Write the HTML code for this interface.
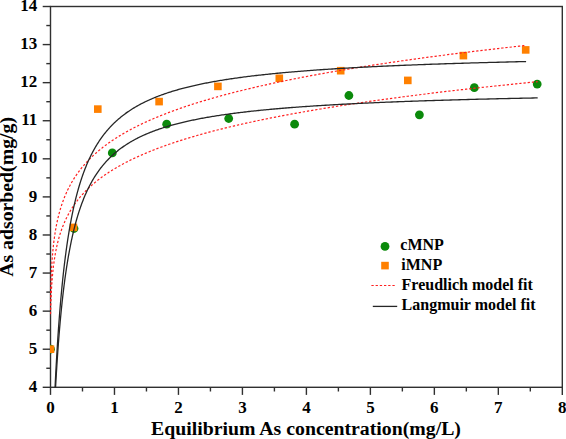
<!DOCTYPE html>
<html><head><meta charset="utf-8"><style>
html,body{margin:0;padding:0;background:#fff;width:566px;height:439px;overflow:hidden}
svg{display:block}
text{font-family:"Liberation Serif",serif;font-weight:bold;fill:#000}
.t{font-size:17px}
.l{font-size:19.8px}
.g{font-size:16px}
</style></head><body>
<svg width="566" height="439" viewBox="0 0 566 439">
<rect x="50.50" y="6.50" width="511.80" height="380.80" fill="none" stroke="#303030" stroke-width="1.40"/>
<line x1="42.70" y1="387.30" x2="50.50" y2="387.30" stroke="#303030" stroke-width="1.40"/>
<text x="37.20" y="391.90" text-anchor="end" class="t">4</text>
<line x1="42.70" y1="349.22" x2="50.50" y2="349.22" stroke="#303030" stroke-width="1.40"/>
<text x="37.20" y="353.82" text-anchor="end" class="t">5</text>
<line x1="42.70" y1="311.14" x2="50.50" y2="311.14" stroke="#303030" stroke-width="1.40"/>
<text x="37.20" y="315.74" text-anchor="end" class="t">6</text>
<line x1="42.70" y1="273.06" x2="50.50" y2="273.06" stroke="#303030" stroke-width="1.40"/>
<text x="37.20" y="277.66" text-anchor="end" class="t">7</text>
<line x1="42.70" y1="234.98" x2="50.50" y2="234.98" stroke="#303030" stroke-width="1.40"/>
<text x="37.20" y="239.58" text-anchor="end" class="t">8</text>
<line x1="42.70" y1="196.90" x2="50.50" y2="196.90" stroke="#303030" stroke-width="1.40"/>
<text x="37.20" y="201.50" text-anchor="end" class="t">9</text>
<line x1="42.70" y1="158.82" x2="50.50" y2="158.82" stroke="#303030" stroke-width="1.40"/>
<text x="37.20" y="163.42" text-anchor="end" class="t">10</text>
<line x1="42.70" y1="120.74" x2="50.50" y2="120.74" stroke="#303030" stroke-width="1.40"/>
<text x="37.20" y="125.34" text-anchor="end" class="t">11</text>
<line x1="42.70" y1="82.66" x2="50.50" y2="82.66" stroke="#303030" stroke-width="1.40"/>
<text x="37.20" y="87.26" text-anchor="end" class="t">12</text>
<line x1="42.70" y1="44.58" x2="50.50" y2="44.58" stroke="#303030" stroke-width="1.40"/>
<text x="37.20" y="49.18" text-anchor="end" class="t">13</text>
<line x1="42.70" y1="6.50" x2="50.50" y2="6.50" stroke="#303030" stroke-width="1.40"/>
<text x="37.20" y="11.10" text-anchor="end" class="t">14</text>
<line x1="46.30" y1="368.26" x2="50.50" y2="368.26" stroke="#303030" stroke-width="1.40"/>
<line x1="46.30" y1="330.18" x2="50.50" y2="330.18" stroke="#303030" stroke-width="1.40"/>
<line x1="46.30" y1="292.10" x2="50.50" y2="292.10" stroke="#303030" stroke-width="1.40"/>
<line x1="46.30" y1="254.02" x2="50.50" y2="254.02" stroke="#303030" stroke-width="1.40"/>
<line x1="46.30" y1="215.94" x2="50.50" y2="215.94" stroke="#303030" stroke-width="1.40"/>
<line x1="46.30" y1="177.86" x2="50.50" y2="177.86" stroke="#303030" stroke-width="1.40"/>
<line x1="46.30" y1="139.78" x2="50.50" y2="139.78" stroke="#303030" stroke-width="1.40"/>
<line x1="46.30" y1="101.70" x2="50.50" y2="101.70" stroke="#303030" stroke-width="1.40"/>
<line x1="46.30" y1="63.62" x2="50.50" y2="63.62" stroke="#303030" stroke-width="1.40"/>
<line x1="46.30" y1="25.54" x2="50.50" y2="25.54" stroke="#303030" stroke-width="1.40"/>
<line x1="50.50" y1="387.30" x2="50.50" y2="394.90" stroke="#303030" stroke-width="1.40"/>
<text x="50.50" y="412.70" text-anchor="middle" class="t">0</text>
<line x1="114.47" y1="387.30" x2="114.47" y2="394.90" stroke="#303030" stroke-width="1.40"/>
<text x="114.47" y="412.70" text-anchor="middle" class="t">1</text>
<line x1="178.45" y1="387.30" x2="178.45" y2="394.90" stroke="#303030" stroke-width="1.40"/>
<text x="178.45" y="412.70" text-anchor="middle" class="t">2</text>
<line x1="242.42" y1="387.30" x2="242.42" y2="394.90" stroke="#303030" stroke-width="1.40"/>
<text x="242.42" y="412.70" text-anchor="middle" class="t">3</text>
<line x1="306.40" y1="387.30" x2="306.40" y2="394.90" stroke="#303030" stroke-width="1.40"/>
<text x="306.40" y="412.70" text-anchor="middle" class="t">4</text>
<line x1="370.38" y1="387.30" x2="370.38" y2="394.90" stroke="#303030" stroke-width="1.40"/>
<text x="370.38" y="412.70" text-anchor="middle" class="t">5</text>
<line x1="434.35" y1="387.30" x2="434.35" y2="394.90" stroke="#303030" stroke-width="1.40"/>
<text x="434.35" y="412.70" text-anchor="middle" class="t">6</text>
<line x1="498.32" y1="387.30" x2="498.32" y2="394.90" stroke="#303030" stroke-width="1.40"/>
<text x="498.32" y="412.70" text-anchor="middle" class="t">7</text>
<line x1="562.30" y1="387.30" x2="562.30" y2="394.90" stroke="#303030" stroke-width="1.40"/>
<text x="562.30" y="412.70" text-anchor="middle" class="t">8</text>
<line x1="82.49" y1="387.30" x2="82.49" y2="391.50" stroke="#303030" stroke-width="1.40"/>
<line x1="146.46" y1="387.30" x2="146.46" y2="391.50" stroke="#303030" stroke-width="1.40"/>
<line x1="210.44" y1="387.30" x2="210.44" y2="391.50" stroke="#303030" stroke-width="1.40"/>
<line x1="274.41" y1="387.30" x2="274.41" y2="391.50" stroke="#303030" stroke-width="1.40"/>
<line x1="338.39" y1="387.30" x2="338.39" y2="391.50" stroke="#303030" stroke-width="1.40"/>
<line x1="402.36" y1="387.30" x2="402.36" y2="391.50" stroke="#303030" stroke-width="1.40"/>
<line x1="466.34" y1="387.30" x2="466.34" y2="391.50" stroke="#303030" stroke-width="1.40"/>
<line x1="530.31" y1="387.30" x2="530.31" y2="391.50" stroke="#303030" stroke-width="1.40"/>
<defs><clipPath id="pc"><rect x="50.00" y="6.50" width="512.30" height="380.80"/></clipPath>
<clipPath id="rc"><rect x="50.00" y="6.50" width="512.30" height="309.00"/></clipPath></defs>
<g clip-path="url(#pc)">
<circle cx="50.50" cy="349.20" r="4.40" fill="#0b8a0b"/>
<circle cx="74.00" cy="228.50" r="4.40" fill="#0b8a0b"/>
<circle cx="112.30" cy="152.90" r="4.40" fill="#0b8a0b"/>
<circle cx="166.70" cy="124.20" r="4.40" fill="#0b8a0b"/>
<circle cx="228.70" cy="118.50" r="4.40" fill="#0b8a0b"/>
<circle cx="294.60" cy="124.20" r="4.40" fill="#0b8a0b"/>
<circle cx="348.90" cy="95.50" r="4.40" fill="#0b8a0b"/>
<circle cx="419.40" cy="114.80" r="4.40" fill="#0b8a0b"/>
<circle cx="474.30" cy="87.70" r="4.40" fill="#0b8a0b"/>
<circle cx="537.20" cy="84.10" r="4.40" fill="#0b8a0b"/>
<rect x="46.70" y="345.40" width="7.60" height="7.60" fill="#ff8000"/>
<rect x="69.60" y="223.60" width="7.60" height="7.60" fill="#ff8000"/>
<rect x="94.00" y="105.30" width="7.60" height="7.60" fill="#ff8000"/>
<rect x="155.30" y="97.80" width="7.60" height="7.60" fill="#ff8000"/>
<rect x="214.10" y="82.60" width="7.60" height="7.60" fill="#ff8000"/>
<rect x="275.50" y="74.50" width="7.60" height="7.60" fill="#ff8000"/>
<rect x="336.90" y="66.90" width="7.60" height="7.60" fill="#ff8000"/>
<rect x="404.00" y="76.60" width="7.60" height="7.60" fill="#ff8000"/>
<rect x="459.60" y="51.80" width="7.60" height="7.60" fill="#ff8000"/>
<rect x="521.90" y="46.10" width="7.60" height="7.60" fill="#ff8000"/>
<g clip-path="url(#rc)">
<polyline points="50.00,473.86 50.00,457.80 50.00,446.64 50.00,437.81 50.00,430.39 50.00,423.93 50.00,418.16 50.00,412.94 50.00,408.15 50.00,403.71 50.00,399.56 50.00,395.66 50.00,391.98 50.01,388.49 50.01,385.17 50.01,382.00 50.01,378.95 50.01,376.03 50.02,373.22 50.02,370.51 50.02,367.88 50.02,365.35 50.03,362.89 50.03,360.50 50.03,358.18 50.04,355.92 50.04,353.72 50.05,351.58 50.05,349.49 50.06,347.44 50.07,345.45 50.07,343.49 50.08,341.58 50.09,339.71 50.09,337.87 50.10,336.07 50.11,334.31 50.12,332.57 50.13,330.87 50.14,329.20 50.15,327.55 50.16,325.94 50.18,324.34 50.19,322.78 50.20,321.24 50.21,319.72 50.23,318.22 50.24,316.75 50.26,315.29 50.28,313.86 50.29,312.45 50.31,311.05 50.33,309.67 50.35,308.31 50.37,306.97 50.39,305.65 50.41,304.34 50.43,303.04 50.45,301.76 50.48,300.50 50.50,299.25 50.53,298.02 50.55,296.79 50.58,295.59 50.61,294.39 50.63,293.21 50.66,292.03 50.69,290.88 50.72,289.73 50.76,288.59 50.79,287.47 50.82,286.35 50.86,285.25 50.89,284.15 50.93,283.07 50.97,282.00 51.01,280.93 51.05,279.88 51.09,278.83 51.13,277.80 51.17,276.77 51.22,275.75 51.26,274.74 51.31,273.74 51.35,272.74 51.40,271.76 51.45,270.78 51.50,269.81 51.55,268.85 51.61,267.89 51.66,266.94 51.72,266.00 51.77,265.07 51.83,264.14 51.89,263.22 51.95,262.31 52.01,261.40 52.07,260.50 52.14,259.60 52.20,258.71 52.27,257.83 52.34,256.95 52.41,256.08 52.48,255.22 52.55,254.36 52.63,253.50 52.70,252.66 52.78,251.81 52.85,250.98 52.93,250.14 53.01,249.32 53.10,248.49 53.18,247.68 53.27,246.86 53.35,246.06 53.44,245.25 53.53,244.46 53.62,243.66 53.71,242.88 53.81,242.09 53.90,241.31 54.00,240.54 54.10,239.77 54.20,239.00 54.31,238.24 54.41,237.48 54.51,236.72 54.62,235.97 54.73,235.23 54.84,234.49 54.96,233.75 55.07,233.01 55.19,232.28 55.30,231.56 55.42,230.83 55.54,230.11 55.67,229.40 55.79,228.69 55.92,227.98 56.05,227.27 56.18,226.57 56.31,225.87 56.45,225.18 56.58,224.49 56.72,223.80 56.86,223.11 57.00,222.43 57.15,221.75 57.29,221.08 57.44,220.40 57.59,219.73 57.74,219.07 57.89,218.40 58.05,217.74 58.21,217.09 58.37,216.43 58.53,215.78 58.69,215.13 58.86,214.49 59.03,213.84 59.20,213.20 59.37,212.56 59.55,211.93 59.72,211.30 59.90,210.67 60.08,210.04 60.27,209.41 60.45,208.79 60.64,208.17 60.83,207.55 61.02,206.94 61.22,206.33 61.41,205.72 61.61,205.11 61.81,204.51 62.02,203.90 62.22,203.30 62.43,202.70 62.64,202.11 62.85,201.52 63.07,200.92 63.29,200.34 63.51,199.75 63.73,199.16 63.96,198.58 64.18,198.00 64.41,197.42 64.65,196.85 64.88,196.27 65.12,195.70 65.36,195.13 65.60,194.57 65.85,194.00 66.09,193.44 66.34,192.87 66.60,192.31 66.85,191.76 67.11,191.20 67.37,190.65 67.63,190.10 67.90,189.55 68.17,189.00 68.44,188.45 68.71,187.91 68.99,187.36 69.27,186.82 69.55,186.28 69.84,185.75 70.12,185.21 70.41,184.68 70.71,184.14 71.00,183.61 71.30,183.09 71.60,182.56 71.91,182.03 72.21,181.51 72.52,180.99 72.84,180.47 73.15,179.95 73.47,179.43 73.79,178.92 74.12,178.40 74.44,177.89 74.77,177.38 75.11,176.87 75.44,176.36 75.78,175.86 76.12,175.35 76.47,174.85 76.82,174.35 77.17,173.85 77.52,173.35 77.88,172.85 78.24,172.36 78.61,171.86 78.97,171.37 79.34,170.88 79.72,170.39 80.09,169.90 80.47,169.41 80.85,168.93 81.24,168.44 81.63,167.96 82.02,167.48 82.41,167.00 82.81,166.52 83.22,166.04 83.62,165.57 84.03,165.09 84.44,164.62 84.86,164.15 85.27,163.67 85.70,163.20 86.12,162.74 86.55,162.27 86.98,161.80 87.41,161.34 87.85,160.88 88.30,160.41 88.74,159.95 89.19,159.49 89.64,159.03 90.10,158.58 90.56,158.12 91.02,157.66 91.49,157.21 91.95,156.76 92.43,156.31 92.90,155.86 93.38,155.41 93.87,154.96 94.36,154.51 94.85,154.07 95.34,153.62 95.84,153.18 96.34,152.74 96.85,152.29 97.36,151.85 97.87,151.41 98.39,150.98 98.91,150.54 99.43,150.10 99.96,149.67 100.49,149.23 101.02,148.80 101.56,148.37 102.11,147.94 102.65,147.51 103.20,147.08 103.76,146.65 104.32,146.23 104.88,145.80 105.44,145.37 106.01,144.95 106.59,144.53 107.16,144.11 107.75,143.69 108.33,143.27 108.92,142.85 109.51,142.43 110.11,142.01 110.71,141.60 111.32,141.18 111.93,140.77 112.54,140.35 113.16,139.94 113.78,139.53 114.40,139.12 115.03,138.71 115.66,138.30 116.30,137.89 116.94,137.49 117.59,137.08 118.24,136.68 118.89,136.27 119.55,135.87 120.21,135.47 120.88,135.06 121.55,134.66 122.23,134.26 122.91,133.86 123.59,133.47 124.28,133.07 124.97,132.67 125.67,132.28 126.37,131.88 127.07,131.49 127.78,131.10 128.49,130.70 129.21,130.31 129.93,129.92 130.66,129.53 131.39,129.14 132.13,128.75 132.87,128.37 133.61,127.98 134.36,127.59 135.11,127.21 135.87,126.82 136.63,126.44 137.40,126.06 138.17,125.68 138.95,125.29 139.73,124.91 140.51,124.53 141.30,124.16 142.09,123.78 142.89,123.40 143.70,123.02 144.50,122.65 145.32,122.27 146.13,121.90 146.96,121.52 147.78,121.15 148.61,120.78 149.45,120.41 150.29,120.04 151.13,119.67 151.98,119.30 152.84,118.93 153.70,118.56 154.56,118.19 155.43,117.82 156.30,117.46 157.18,117.09 158.07,116.73 158.95,116.36 159.85,116.00 160.75,115.64 161.65,115.28 162.56,114.92 163.47,114.56 164.39,114.20 165.31,113.84 166.24,113.48 167.17,113.12 168.11,112.76 169.05,112.41 170.00,112.05 170.95,111.69 171.90,111.34 172.87,110.98 173.83,110.63 174.81,110.28 175.78,109.93 176.77,109.57 177.76,109.22 178.75,108.87 179.75,108.52 180.75,108.17 181.76,107.83 182.77,107.48 183.79,107.13 184.81,106.78 185.84,106.44 186.88,106.09 187.92,105.75 188.96,105.40 190.01,105.06 191.07,104.72 192.13,104.37 193.19,104.03 194.27,103.69 195.34,103.35 196.42,103.01 197.51,102.67 198.60,102.33 199.70,101.99 200.81,101.65 201.91,101.32 203.03,100.98 204.15,100.64 205.27,100.31 206.40,99.97 207.54,99.64 208.68,99.31 209.83,98.97 210.98,98.64 212.14,98.31 213.30,97.97 214.47,97.64 215.65,97.31 216.83,96.98 218.01,96.65 219.20,96.32 220.40,96.00 221.60,95.67 222.81,95.34 224.03,95.01 225.25,94.69 226.47,94.36 227.70,94.03 228.94,93.71 230.18,93.38 231.43,93.06 232.69,92.74 233.95,92.41 235.21,92.09 236.48,91.77 237.76,91.45 239.04,91.13 240.33,90.81 241.63,90.49 242.93,90.17 244.23,89.85 245.55,89.53 246.87,89.21 248.19,88.90 249.52,88.58 250.86,88.26 252.20,87.95 253.55,87.63 254.90,87.32 256.26,87.00 257.63,86.69 259.00,86.37 260.38,86.06 261.76,85.75 263.15,85.44 264.55,85.12 265.95,84.81 267.36,84.50 268.77,84.19 270.19,83.88 271.62,83.57 273.05,83.26 274.49,82.95 275.94,82.65 277.39,82.34 278.84,82.03 280.31,81.72 281.78,81.42 283.25,81.11 284.74,80.81 286.23,80.50 287.72,80.20 289.22,79.89 290.73,79.59 292.24,79.29 293.76,78.98 295.29,78.68 296.82,78.38 298.36,78.08 299.91,77.78 301.46,77.48 303.02,77.18 304.59,76.88 306.16,76.58 307.73,76.28 309.32,75.98 310.91,75.68 312.51,75.38 314.11,75.09 315.72,74.79 317.34,74.49 318.96,74.20 320.59,73.90 322.23,73.61 323.87,73.31 325.52,73.02 327.18,72.72 328.84,72.43 330.51,72.14 332.19,71.84 333.87,71.55 335.56,71.26 337.26,70.97 338.96,70.67 340.67,70.38 342.39,70.09 344.11,69.80 345.84,69.51 347.58,69.22 349.32,68.94 351.07,68.65 352.83,68.36 354.59,68.07 356.36,67.78 358.14,67.50 359.92,67.21 361.72,66.92 363.51,66.64 365.32,66.35 367.13,66.07 368.95,65.78 370.78,65.50 372.61,65.21 374.45,64.93 376.30,64.65 378.15,64.36 380.01,64.08 381.88,63.80 383.76,63.52 385.64,63.24 387.53,62.96 389.42,62.67 391.33,62.39 393.24,62.11 395.15,61.83 397.08,61.56 399.01,61.28 400.95,61.00 402.90,60.72 404.85,60.44 406.81,60.16 408.78,59.89 410.75,59.61 412.73,59.33 414.72,59.06 416.72,58.78 418.72,58.51 420.73,58.23 422.75,57.96 424.78,57.68 426.81,57.41 428.85,57.13 430.90,56.86 432.96,56.59 435.02,56.31 437.09,56.04 439.17,55.77 441.25,55.50 443.34,55.23 445.44,54.96 447.55,54.68 449.66,54.41 451.79,54.14 453.92,53.87 456.05,53.60 458.20,53.34 460.35,53.07 462.51,52.80 464.68,52.53 466.85,52.26 469.03,51.99 471.22,51.73 473.42,51.46 475.63,51.19 477.84,50.93 480.06,50.66 482.29,50.40 484.53,50.13 486.77,49.87 489.02,49.60 491.28,49.34 493.55,49.07 495.82,48.81 498.10,48.55 500.39,48.28 502.69,48.02 505.00,47.76 507.31,47.49 509.63,47.23 511.96,46.97 514.30,46.71 516.64,46.45 519.00,46.19 521.36,45.93 523.73,45.67 526.10,45.41" fill="none" stroke="#ff2020" stroke-width="1.20" stroke-dasharray="2.3 1.9"/>
<polyline points="50.00,477.74 50.00,462.76 50.00,452.36 50.00,444.14 50.00,437.23 50.00,431.22 50.00,425.87 50.00,421.01 50.00,416.56 50.00,412.44 50.00,408.59 50.00,404.97 50.00,401.55 50.01,398.32 50.01,395.23 50.01,392.29 50.01,389.47 50.01,386.76 50.02,384.15 50.02,381.63 50.02,379.20 50.02,376.85 50.03,374.57 50.03,372.36 50.04,370.21 50.04,368.11 50.04,366.08 50.05,364.09 50.06,362.15 50.06,360.26 50.07,358.41 50.07,356.60 50.08,354.83 50.09,353.10 50.10,351.40 50.11,349.73 50.11,348.10 50.12,346.49 50.13,344.92 50.14,343.37 50.16,341.84 50.17,340.35 50.18,338.88 50.19,337.43 50.21,336.00 50.22,334.59 50.23,333.21 50.25,331.85 50.27,330.50 50.28,329.17 50.30,327.87 50.32,326.58 50.34,325.30 50.36,324.05 50.38,322.80 50.40,321.58 50.42,320.37 50.44,319.17 50.46,317.99 50.49,316.82 50.51,315.66 50.54,314.52 50.56,313.39 50.59,312.27 50.62,311.17 50.65,310.08 50.68,308.99 50.71,307.92 50.74,306.86 50.77,305.81 50.81,304.77 50.84,303.74 50.88,302.72 50.91,301.71 50.95,300.71 50.99,299.72 51.03,298.73 51.07,297.76 51.11,296.79 51.16,295.83 51.20,294.88 51.24,293.94 51.29,293.01 51.34,292.08 51.39,291.17 51.44,290.25 51.49,289.35 51.54,288.45 51.59,287.56 51.65,286.68 51.70,285.81 51.76,284.94 51.82,284.07 51.88,283.22 51.94,282.37 52.00,281.52 52.06,280.68 52.13,279.85 52.19,279.02 52.26,278.20 52.33,277.39 52.40,276.58 52.47,275.78 52.54,274.98 52.61,274.18 52.69,273.39 52.77,272.61 52.84,271.83 52.92,271.06 53.01,270.29 53.09,269.53 53.17,268.77 53.26,268.01 53.35,267.26 53.43,266.52 53.52,265.78 53.62,265.04 53.71,264.31 53.80,263.58 53.90,262.86 54.00,262.14 54.10,261.42 54.20,260.71 54.30,260.00 54.41,259.30 54.52,258.60 54.62,257.90 54.73,257.21 54.85,256.52 54.96,255.84 55.08,255.16 55.19,254.48 55.31,253.80 55.43,253.13 55.55,252.47 55.68,251.80 55.81,251.14 55.93,250.49 56.06,249.83 56.20,249.18 56.33,248.53 56.46,247.89 56.60,247.25 56.74,246.61 56.88,245.97 57.03,245.34 57.17,244.71 57.32,244.09 57.47,243.46 57.62,242.84 57.77,242.22 57.93,241.61 58.09,241.00 58.25,240.39 58.41,239.78 58.57,239.18 58.74,238.58 58.91,237.98 59.08,237.38 59.25,236.79 59.42,236.20 59.60,235.61 59.78,235.02 59.96,234.44 60.14,233.86 60.33,233.28 60.52,232.70 60.71,232.13 60.90,231.56 61.09,230.99 61.29,230.42 61.49,229.86 61.69,229.30 61.89,228.73 62.10,228.18 62.31,227.62 62.52,227.07 62.73,226.52 62.95,225.97 63.17,225.42 63.39,224.87 63.61,224.33 63.84,223.79 64.06,223.25 64.30,222.71 64.53,222.18 64.76,221.65 65.00,221.12 65.24,220.59 65.49,220.06 65.73,219.53 65.98,219.01 66.23,218.49 66.48,217.97 66.74,217.45 67.00,216.93 67.26,216.42 67.53,215.91 67.79,215.40 68.06,214.89 68.33,214.38 68.61,213.88 68.89,213.37 69.17,212.87 69.45,212.37 69.74,211.87 70.03,211.37 70.32,210.88 70.61,210.39 70.91,209.89 71.21,209.40 71.51,208.91 71.82,208.43 72.13,207.94 72.44,207.46 72.75,206.97 73.07,206.49 73.39,206.01 73.71,205.54 74.04,205.06 74.37,204.58 74.70,204.11 75.04,203.64 75.38,203.17 75.72,202.70 76.06,202.23 76.41,201.76 76.76,201.30 77.11,200.83 77.47,200.37 77.83,199.91 78.19,199.45 78.56,198.99 78.93,198.54 79.30,198.08 79.68,197.63 80.06,197.18 80.44,196.72 80.82,196.27 81.21,195.82 81.60,195.38 82.00,194.93 82.40,194.49 82.80,194.04 83.20,193.60 83.61,193.16 84.02,192.72 84.44,192.28 84.86,191.84 85.28,191.41 85.70,190.97 86.13,190.54 86.56,190.10 87.00,189.67 87.44,189.24 87.88,188.81 88.32,188.38 88.77,187.96 89.23,187.53 89.68,187.11 90.14,186.68 90.61,186.26 91.07,185.84 91.54,185.42 92.02,185.00 92.49,184.58 92.98,184.16 93.46,183.75 93.95,183.33 94.44,182.92 94.94,182.51 95.43,182.09 95.94,181.68 96.44,181.27 96.95,180.86 97.47,180.46 97.99,180.05 98.51,179.64 99.03,179.24 99.56,178.84 100.10,178.43 100.63,178.03 101.17,177.63 101.72,177.23 102.27,176.83 102.82,176.43 103.37,176.04 103.93,175.64 104.50,175.25 105.07,174.85 105.64,174.46 106.21,174.07 106.79,173.68 107.38,173.29 107.96,172.90 108.55,172.51 109.15,172.12 109.75,171.73 110.35,171.35 110.96,170.96 111.57,170.58 112.19,170.20 112.81,169.81 113.43,169.43 114.06,169.05 114.69,168.67 115.33,168.29 115.97,167.91 116.61,167.54 117.26,167.16 117.91,166.78 118.57,166.41 119.23,166.04 119.90,165.66 120.57,165.29 121.24,164.92 121.92,164.55 122.60,164.18 123.29,163.81 123.98,163.44 124.68,163.07 125.38,162.71 126.08,162.34 126.79,161.98 127.51,161.61 128.22,161.25 128.95,160.89 129.67,160.52 130.40,160.16 131.14,159.80 131.88,159.44 132.62,159.08 133.37,158.73 134.12,158.37 134.88,158.01 135.64,157.66 136.41,157.30 137.18,156.95 137.96,156.59 138.74,156.24 139.53,155.89 140.32,155.53 141.11,155.18 141.91,154.83 142.71,154.48 143.52,154.13 144.33,153.79 145.15,153.44 145.98,153.09 146.80,152.74 147.63,152.40 148.47,152.05 149.31,151.71 150.16,151.37 151.01,151.02 151.87,150.68 152.73,150.34 153.59,150.00 154.46,149.66 155.34,149.32 156.22,148.98 157.10,148.64 157.99,148.30 158.89,147.97 159.79,147.63 160.69,147.30 161.60,146.96 162.52,146.63 163.44,146.29 164.36,145.96 165.29,145.63 166.23,145.29 167.17,144.96 168.11,144.63 169.06,144.30 170.02,143.97 170.98,143.64 171.94,143.32 172.91,142.99 173.89,142.66 174.87,142.33 175.86,142.01 176.85,141.68 177.84,141.36 178.84,141.03 179.85,140.71 180.86,140.39 181.88,140.06 182.90,139.74 183.93,139.42 184.96,139.10 186.00,138.78 187.04,138.46 188.09,138.14 189.15,137.82 190.21,137.50 191.27,137.19 192.34,136.87 193.42,136.55 194.50,136.24 195.58,135.92 196.68,135.61 197.77,135.29 198.88,134.98 199.98,134.67 201.10,134.35 202.22,134.04 203.34,133.73 204.47,133.42 205.61,133.11 206.75,132.80 207.90,132.49 209.05,132.18 210.21,131.87 211.37,131.56 212.54,131.26 213.72,130.95 214.90,130.64 216.08,130.34 217.27,130.03 218.47,129.73 219.68,129.42 220.88,129.12 222.10,128.82 223.32,128.51 224.55,128.21 225.78,127.91 227.02,127.61 228.26,127.31 229.51,127.01 230.76,126.71 232.03,126.41 233.29,126.11 234.57,125.81 235.84,125.51 237.13,125.21 238.42,124.92 239.72,124.62 241.02,124.32 242.33,124.03 243.64,123.73 244.96,123.44 246.29,123.14 247.62,122.85 248.96,122.55 250.30,122.26 251.65,121.97 253.01,121.68 254.37,121.39 255.74,121.09 257.12,120.80 258.50,120.51 259.88,120.22 261.28,119.93 262.68,119.64 264.08,119.36 265.49,119.07 266.91,118.78 268.33,118.49 269.76,118.21 271.20,117.92 272.64,117.63 274.09,117.35 275.55,117.06 277.01,116.78 278.48,116.49 279.95,116.21 281.43,115.93 282.92,115.64 284.41,115.36 285.91,115.08 287.42,114.80 288.93,114.52 290.45,114.23 291.97,113.95 293.50,113.67 295.04,113.39 296.58,113.11 298.14,112.84 299.69,112.56 301.26,112.28 302.83,112.00 304.40,111.72 305.99,111.45 307.58,111.17 309.17,110.89 310.78,110.62 312.39,110.34 314.00,110.07 315.63,109.79 317.26,109.52 318.89,109.24 320.53,108.97 322.18,108.70 323.84,108.42 325.50,108.15 327.17,107.88 328.85,107.61 330.53,107.34 332.22,107.07 333.92,106.80 335.62,106.53 337.33,106.26 339.05,105.99 340.77,105.72 342.51,105.45 344.24,105.18 345.99,104.91 347.74,104.65 349.50,104.38 351.26,104.11 353.03,103.84 354.81,103.58 356.60,103.31 358.39,103.05 360.19,102.78 362.00,102.52 363.81,102.25 365.63,101.99 367.46,101.73 369.30,101.46 371.14,101.20 372.99,100.94 374.85,100.67 376.71,100.41 378.58,100.15 380.46,99.89 382.34,99.63 384.23,99.37 386.13,99.11 388.04,98.85 389.95,98.59 391.87,98.33 393.80,98.07 395.74,97.81 397.68,97.55 399.63,97.30 401.58,97.04 403.55,96.78 405.52,96.52 407.50,96.27 409.48,96.01 411.48,95.76 413.48,95.50 415.49,95.24 417.50,94.99 419.53,94.73 421.56,94.48 423.59,94.23 425.64,93.97 427.69,93.72 429.75,93.47 431.82,93.21 433.89,92.96 435.98,92.71 438.07,92.46 440.16,92.21 442.27,91.95 444.38,91.70 446.50,91.45 448.63,91.20 450.77,90.95 452.91,90.70 455.06,90.45 457.22,90.20 459.38,89.96 461.56,89.71 463.74,89.46 465.93,89.21 468.13,88.96 470.33,88.72 472.54,88.47 474.76,88.22 476.99,87.98 479.23,87.73 481.47,87.48 483.72,87.24 485.98,86.99 488.25,86.75 490.52,86.50 492.80,86.26 495.09,86.02 497.39,85.77 499.70,85.53 502.01,85.29 504.33,85.04 506.66,84.80 509.00,84.56 511.35,84.32 513.70,84.07 516.06,83.83 518.43,83.59 520.81,83.35 523.20,83.11 525.59,82.87 527.99,82.63 530.40,82.39 532.82,82.15 535.25,81.91 537.68,81.67" fill="none" stroke="#ff2020" stroke-width="1.20" stroke-dasharray="2.3 1.9"/>
</g>
<polyline points="50.00,539.62 50.00,539.62 50.00,539.62 50.00,539.61 50.00,539.61 50.00,539.60 50.00,539.59 50.00,539.57 50.00,539.55 50.00,539.52 50.00,539.49 50.00,539.45 50.00,539.41 50.01,539.36 50.01,539.30 50.01,539.23 50.01,539.15 50.01,539.06 50.02,538.96 50.02,538.85 50.02,538.73 50.02,538.60 50.03,538.45 50.03,538.29 50.03,538.12 50.04,537.93 50.04,537.73 50.05,537.52 50.05,537.28 50.06,537.03 50.07,536.77 50.07,536.49 50.08,536.18 50.09,535.87 50.09,535.53 50.10,535.17 50.11,534.79 50.12,534.39 50.13,533.98 50.14,533.54 50.15,533.07 50.16,532.59 50.18,532.08 50.19,531.55 50.20,531.00 50.21,530.43 50.23,529.83 50.24,529.20 50.26,528.55 50.28,527.88 50.29,527.18 50.31,526.45 50.33,525.70 50.35,524.92 50.37,524.11 50.39,523.28 50.41,522.42 50.43,521.53 50.45,520.62 50.48,519.67 50.50,518.70 50.53,517.70 50.55,516.68 50.58,515.62 50.61,514.54 50.63,513.43 50.66,512.28 50.69,511.11 50.72,509.92 50.76,508.69 50.79,507.43 50.82,506.15 50.86,504.83 50.89,503.49 50.93,502.12 50.97,500.72 51.01,499.29 51.05,497.84 51.09,496.35 51.13,494.84 51.17,493.30 51.22,491.74 51.26,490.14 51.31,488.52 51.35,486.87 51.40,485.20 51.45,483.50 51.50,481.77 51.55,480.02 51.61,478.24 51.66,476.44 51.72,474.62 51.77,472.77 51.83,470.89 51.89,469.00 51.95,467.08 52.01,465.13 52.07,463.17 52.14,461.19 52.20,459.18 52.27,457.15 52.34,455.11 52.41,453.04 52.48,450.96 52.55,448.85 52.63,446.73 52.70,444.59 52.78,442.44 52.85,440.27 52.93,438.08 53.01,435.88 53.10,433.66 53.18,431.43 53.27,429.19 53.35,426.93 53.44,424.66 53.53,422.38 53.62,420.09 53.71,417.79 53.81,415.48 53.90,413.15 54.00,410.83 54.10,408.49 54.20,406.14 54.31,403.79 54.41,401.43 54.51,399.07 54.62,396.70 54.73,394.33 54.84,391.95 54.96,389.57 55.07,387.18 55.19,384.80 55.30,382.41 55.42,380.02 55.54,377.63 55.67,375.24 55.79,372.85 55.92,370.46 56.05,368.07 56.18,365.69 56.31,363.30 56.45,360.92 56.58,358.54 56.72,356.17 56.86,353.80 57.00,351.43 57.15,349.07 57.29,346.72 57.44,344.37 57.59,342.02 57.74,339.68 57.89,337.35 58.05,335.03 58.21,332.72 58.37,330.41 58.53,328.11 58.69,325.82 58.86,323.54 59.03,321.27 59.20,319.00 59.37,316.75 59.55,314.51 59.72,312.28 59.90,310.06 60.08,307.85 60.27,305.65 60.45,303.46 60.64,301.28 60.83,299.12 61.02,296.97 61.22,294.83 61.41,292.70 61.61,290.58 61.81,288.48 62.02,286.39 62.22,284.32 62.43,282.25 62.64,280.21 62.85,278.17 63.07,276.15 63.29,274.14 63.51,272.14 63.73,270.16 63.96,268.19 64.18,266.24 64.41,264.30 64.65,262.38 64.88,260.47 65.12,258.57 65.36,256.69 65.60,254.82 65.85,252.97 66.09,251.13 66.34,249.31 66.60,247.50 66.85,245.70 67.11,243.92 67.37,242.16 67.63,240.41 67.90,238.67 68.17,236.95 68.44,235.24 68.71,233.55 68.99,231.87 69.27,230.21 69.55,228.56 69.84,226.92 70.12,225.30 70.41,223.69 70.71,222.10 71.00,220.52 71.30,218.96 71.60,217.41 71.91,215.87 72.21,214.35 72.52,212.85 72.84,211.35 73.15,209.87 73.47,208.41 73.79,206.95 74.12,205.51 74.44,204.09 74.77,202.68 75.11,201.28 75.44,199.89 75.78,198.52 76.12,197.16 76.47,195.82 76.82,194.48 77.17,193.16 77.52,191.86 77.88,190.56 78.24,189.28 78.61,188.01 78.97,186.75 79.34,185.51 79.72,184.27 80.09,183.05 80.47,181.85 80.85,180.65 81.24,179.46 81.63,178.29 82.02,177.13 82.41,175.98 82.81,174.84 83.22,173.72 83.62,172.60 84.03,171.50 84.44,170.40 84.86,169.32 85.27,168.25 85.70,167.19 86.12,166.14 86.55,165.10 86.98,164.07 87.41,163.06 87.85,162.05 88.30,161.05 88.74,160.06 89.19,159.09 89.64,158.12 90.10,157.16 90.56,156.21 91.02,155.27 91.49,154.34 91.95,153.43 92.43,152.52 92.90,151.62 93.38,150.72 93.87,149.84 94.36,148.97 94.85,148.10 95.34,147.25 95.84,146.40 96.34,145.56 96.85,144.73 97.36,143.91 97.87,143.10 98.39,142.29 98.91,141.50 99.43,140.71 99.96,139.93 100.49,139.16 101.02,138.39 101.56,137.64 102.11,136.89 102.65,136.15 103.20,135.41 103.76,134.69 104.32,133.97 104.88,133.26 105.44,132.55 106.01,131.86 106.59,131.17 107.16,130.48 107.75,129.81 108.33,129.14 108.92,128.47 109.51,127.82 110.11,127.17 110.71,126.53 111.32,125.89 111.93,125.26 112.54,124.64 113.16,124.02 113.78,123.41 114.40,122.81 115.03,122.21 115.66,121.61 116.30,121.03 116.94,120.45 117.59,119.87 118.24,119.30 118.89,118.74 119.55,118.18 120.21,117.63 120.88,117.08 121.55,116.54 122.23,116.00 122.91,115.47 123.59,114.95 124.28,114.43 124.97,113.91 125.67,113.40 126.37,112.90 127.07,112.40 127.78,111.90 128.49,111.41 129.21,110.93 129.93,110.45 130.66,109.97 131.39,109.50 132.13,109.03 132.87,108.57 133.61,108.11 134.36,107.66 135.11,107.21 135.87,106.77 136.63,106.33 137.40,105.89 138.17,105.46 138.95,105.03 139.73,104.61 140.51,104.19 141.30,103.78 142.09,103.37 142.89,102.96 143.70,102.56 144.50,102.16 145.32,101.76 146.13,101.37 146.96,100.98 147.78,100.60 148.61,100.22 149.45,99.84 150.29,99.47 151.13,99.10 151.98,98.73 152.84,98.37 153.70,98.01 154.56,97.65 155.43,97.30 156.30,96.95 157.18,96.60 158.07,96.26 158.95,95.92 159.85,95.58 160.75,95.25 161.65,94.92 162.56,94.59 163.47,94.27 164.39,93.95 165.31,93.63 166.24,93.31 167.17,93.00 168.11,92.69 169.05,92.38 170.00,92.08 170.95,91.78 171.90,91.48 172.87,91.18 173.83,90.89 174.81,90.60 175.78,90.31 176.77,90.03 177.76,89.75 178.75,89.47 179.75,89.19 180.75,88.91 181.76,88.64 182.77,88.37 183.79,88.10 184.81,87.84 185.84,87.58 186.88,87.32 187.92,87.06 188.96,86.80 190.01,86.55 191.07,86.30 192.13,86.05 193.19,85.80 194.27,85.56 195.34,85.31 196.42,85.07 197.51,84.83 198.60,84.60 199.70,84.36 200.81,84.13 201.91,83.90 203.03,83.67 204.15,83.45 205.27,83.22 206.40,83.00 207.54,82.78 208.68,82.56 209.83,82.35 210.98,82.13 212.14,81.92 213.30,81.71 214.47,81.50 215.65,81.29 216.83,81.09 218.01,80.88 219.20,80.68 220.40,80.48 221.60,80.28 222.81,80.09 224.03,79.89 225.25,79.70 226.47,79.50 227.70,79.31 228.94,79.12 230.18,78.94 231.43,78.75 232.69,78.57 233.95,78.39 235.21,78.20 236.48,78.02 237.76,77.85 239.04,77.67 240.33,77.50 241.63,77.32 242.93,77.15 244.23,76.98 245.55,76.81 246.87,76.64 248.19,76.47 249.52,76.31 250.86,76.15 252.20,75.98 253.55,75.82 254.90,75.66 256.26,75.50 257.63,75.35 259.00,75.19 260.38,75.03 261.76,74.88 263.15,74.73 264.55,74.58 265.95,74.43 267.36,74.28 268.77,74.13 270.19,73.98 271.62,73.84 273.05,73.70 274.49,73.55 275.94,73.41 277.39,73.27 278.84,73.13 280.31,72.99 281.78,72.86 283.25,72.72 284.74,72.58 286.23,72.45 287.72,72.32 289.22,72.18 290.73,72.05 292.24,71.92 293.76,71.79 295.29,71.67 296.82,71.54 298.36,71.41 299.91,71.29 301.46,71.16 303.02,71.04 304.59,70.92 306.16,70.80 307.73,70.68 309.32,70.56 310.91,70.44 312.51,70.32 314.11,70.21 315.72,70.09 317.34,69.97 318.96,69.86 320.59,69.75 322.23,69.64 323.87,69.52 325.52,69.41 327.18,69.30 328.84,69.19 330.51,69.09 332.19,68.98 333.87,68.87 335.56,68.77 337.26,68.66 338.96,68.56 340.67,68.45 342.39,68.35 344.11,68.25 345.84,68.15 347.58,68.05 349.32,67.95 351.07,67.85 352.83,67.75 354.59,67.65 356.36,67.56 358.14,67.46 359.92,67.36 361.72,67.27 363.51,67.18 365.32,67.08 367.13,66.99 368.95,66.90 370.78,66.81 372.61,66.72 374.45,66.63 376.30,66.54 378.15,66.45 380.01,66.36 381.88,66.27 383.76,66.19 385.64,66.10 387.53,66.01 389.42,65.93 391.33,65.84 393.24,65.76 395.15,65.68 397.08,65.59 399.01,65.51 400.95,65.43 402.90,65.35 404.85,65.27 406.81,65.19 408.78,65.11 410.75,65.03 412.73,64.95 414.72,64.88 416.72,64.80 418.72,64.72 420.73,64.65 422.75,64.57 424.78,64.50 426.81,64.42 428.85,64.35 430.90,64.27 432.96,64.20 435.02,64.13 437.09,64.06 439.17,63.99 441.25,63.91 443.34,63.84 445.44,63.77 447.55,63.70 449.66,63.64 451.79,63.57 453.92,63.50 456.05,63.43 458.20,63.36 460.35,63.30 462.51,63.23 464.68,63.17 466.85,63.10 469.03,63.03 471.22,62.97 473.42,62.91 475.63,62.84 477.84,62.78 480.06,62.72 482.29,62.65 484.53,62.59 486.77,62.53 489.02,62.47 491.28,62.41 493.55,62.35 495.82,62.29 498.10,62.23 500.39,62.17 502.69,62.11 505.00,62.05 507.31,61.99 509.63,61.94 511.96,61.88 514.30,61.82 516.64,61.77 519.00,61.71 521.36,61.65 523.73,61.60 526.10,61.54" fill="none" stroke="#262626" stroke-width="1.30"/>
<polyline points="50.00,539.62 50.00,539.62 50.00,539.62 50.00,539.61 50.00,539.61 50.00,539.60 50.00,539.59 50.00,539.57 50.00,539.55 50.00,539.53 50.00,539.50 50.00,539.46 50.00,539.42 50.01,539.36 50.01,539.31 50.01,539.24 50.01,539.16 50.01,539.08 50.02,538.98 50.02,538.88 50.02,538.76 50.02,538.63 50.03,538.49 50.03,538.33 50.04,538.17 50.04,537.99 50.04,537.79 50.05,537.58 50.06,537.36 50.06,537.12 50.07,536.86 50.07,536.59 50.08,536.29 50.09,535.98 50.10,535.66 50.11,535.31 50.11,534.95 50.12,534.56 50.13,534.16 50.14,533.73 50.16,533.28 50.17,532.82 50.18,532.33 50.19,531.81 50.21,531.28 50.22,530.72 50.23,530.14 50.25,529.54 50.27,528.91 50.28,528.26 50.30,527.58 50.32,526.88 50.34,526.15 50.36,525.40 50.38,524.62 50.40,523.82 50.42,522.99 50.44,522.13 50.46,521.25 50.49,520.34 50.51,519.40 50.54,518.44 50.56,517.45 50.59,516.43 50.62,515.39 50.65,514.32 50.68,513.22 50.71,512.09 50.74,510.93 50.77,509.75 50.81,508.54 50.84,507.31 50.88,506.04 50.91,504.75 50.95,503.44 50.99,502.09 51.03,500.72 51.07,499.32 51.11,497.90 51.16,496.44 51.20,494.97 51.24,493.46 51.29,491.93 51.34,490.38 51.39,488.80 51.44,487.20 51.49,485.57 51.54,483.92 51.59,482.24 51.65,480.54 51.70,478.82 51.76,477.07 51.82,475.30 51.88,473.51 51.94,471.70 52.00,469.87 52.06,468.01 52.13,466.14 52.19,464.25 52.26,462.33 52.33,460.40 52.40,458.45 52.47,456.49 52.54,454.50 52.61,452.50 52.69,450.49 52.77,448.45 52.84,446.41 52.92,444.34 53.01,442.27 53.09,440.18 53.17,438.08 53.26,435.96 53.35,433.84 53.43,431.70 53.52,429.55 53.62,427.39 53.71,425.23 53.80,423.05 53.90,420.87 54.00,418.67 54.10,416.47 54.20,414.27 54.30,412.06 54.41,409.84 54.52,407.62 54.62,405.39 54.73,403.16 54.85,400.93 54.96,398.69 55.08,396.45 55.19,394.21 55.31,391.97 55.43,389.73 55.55,387.49 55.68,385.25 55.81,383.01 55.93,380.77 56.06,378.53 56.20,376.29 56.33,374.06 56.46,371.83 56.60,369.60 56.74,367.38 56.88,365.16 57.03,362.95 57.17,360.74 57.32,358.54 57.47,356.35 57.62,354.16 57.77,351.98 57.93,349.80 58.09,347.63 58.25,345.47 58.41,343.32 58.57,341.18 58.74,339.04 58.91,336.91 59.08,334.80 59.25,332.69 59.42,330.59 59.60,328.51 59.78,326.43 59.96,324.36 60.14,322.31 60.33,320.26 60.52,318.23 60.71,316.21 60.90,314.20 61.09,312.20 61.29,310.21 61.49,308.24 61.69,306.28 61.89,304.33 62.10,302.39 62.31,300.47 62.52,298.56 62.73,296.66 62.95,294.77 63.17,292.90 63.39,291.04 63.61,289.19 63.84,287.36 64.06,285.54 64.30,283.74 64.53,281.95 64.76,280.17 65.00,278.40 65.24,276.65 65.49,274.92 65.73,273.19 65.98,271.49 66.23,269.79 66.48,268.11 66.74,266.44 67.00,264.79 67.26,263.15 67.53,261.52 67.79,259.91 68.06,258.31 68.33,256.73 68.61,255.16 68.89,253.60 69.17,252.06 69.45,250.53 69.74,249.01 70.03,247.51 70.32,246.02 70.61,244.55 70.91,243.08 71.21,241.64 71.51,240.20 71.82,238.78 72.13,237.37 72.44,235.98 72.75,234.60 73.07,233.23 73.39,231.87 73.71,230.53 74.04,229.20 74.37,227.88 74.70,226.58 75.04,225.28 75.38,224.01 75.72,222.74 76.06,221.48 76.41,220.24 76.76,219.01 77.11,217.79 77.47,216.59 77.83,215.40 78.19,214.21 78.56,213.04 78.93,211.88 79.30,210.74 79.68,209.60 80.06,208.48 80.44,207.37 80.82,206.26 81.21,205.17 81.60,204.09 82.00,203.03 82.40,201.97 82.80,200.92 83.20,199.89 83.61,198.86 84.02,197.85 84.44,196.84 84.86,195.85 85.28,194.86 85.70,193.89 86.13,192.93 86.56,191.97 87.00,191.03 87.44,190.09 87.88,189.17 88.32,188.25 88.77,187.35 89.23,186.45 89.68,185.56 90.14,184.69 90.61,183.82 91.07,182.96 91.54,182.11 92.02,181.26 92.49,180.43 92.98,179.60 93.46,178.79 93.95,177.98 94.44,177.18 94.94,176.39 95.43,175.61 95.94,174.83 96.44,174.07 96.95,173.31 97.47,172.56 97.99,171.81 98.51,171.08 99.03,170.35 99.56,169.63 100.10,168.92 100.63,168.21 101.17,167.51 101.72,166.82 102.27,166.14 102.82,165.46 103.37,164.79 103.93,164.13 104.50,163.47 105.07,162.82 105.64,162.18 106.21,161.54 106.79,160.92 107.38,160.29 107.96,159.68 108.55,159.07 109.15,158.46 109.75,157.86 110.35,157.27 110.96,156.69 111.57,156.11 112.19,155.53 112.81,154.97 113.43,154.40 114.06,153.85 114.69,153.30 115.33,152.75 115.97,152.21 116.61,151.68 117.26,151.15 117.91,150.63 118.57,150.11 119.23,149.60 119.90,149.09 120.57,148.59 121.24,148.09 121.92,147.60 122.60,147.11 123.29,146.63 123.98,146.15 124.68,145.68 125.38,145.21 126.08,144.75 126.79,144.29 127.51,143.84 128.22,143.39 128.95,142.94 129.67,142.50 130.40,142.06 131.14,141.63 131.88,141.20 132.62,140.78 133.37,140.36 134.12,139.95 134.88,139.54 135.64,139.13 136.41,138.73 137.18,138.33 137.96,137.93 138.74,137.54 139.53,137.15 140.32,136.77 141.11,136.39 141.91,136.01 142.71,135.64 143.52,135.27 144.33,134.91 145.15,134.55 145.98,134.19 146.80,133.83 147.63,133.48 148.47,133.13 149.31,132.79 150.16,132.45 151.01,132.11 151.87,131.78 152.73,131.44 153.59,131.12 154.46,130.79 155.34,130.47 156.22,130.15 157.10,129.83 157.99,129.52 158.89,129.21 159.79,128.90 160.69,128.60 161.60,128.30 162.52,128.00 163.44,127.70 164.36,127.41 165.29,127.12 166.23,126.83 167.17,126.55 168.11,126.26 169.06,125.98 170.02,125.71 170.98,125.43 171.94,125.16 172.91,124.89 173.89,124.62 174.87,124.36 175.86,124.10 176.85,123.84 177.84,123.58 178.84,123.33 179.85,123.07 180.86,122.82 181.88,122.57 182.90,122.33 183.93,122.08 184.96,121.84 186.00,121.60 187.04,121.37 188.09,121.13 189.15,120.90 190.21,120.67 191.27,120.44 192.34,120.21 193.42,119.99 194.50,119.77 195.58,119.55 196.68,119.33 197.77,119.11 198.88,118.90 199.98,118.68 201.10,118.47 202.22,118.26 203.34,118.06 204.47,117.85 205.61,117.65 206.75,117.44 207.90,117.24 209.05,117.05 210.21,116.85 211.37,116.65 212.54,116.46 213.72,116.27 214.90,116.08 216.08,115.89 217.27,115.71 218.47,115.52 219.68,115.34 220.88,115.16 222.10,114.97 223.32,114.80 224.55,114.62 225.78,114.44 227.02,114.27 228.26,114.10 229.51,113.92 230.76,113.76 232.03,113.59 233.29,113.42 234.57,113.25 235.84,113.09 237.13,112.93 238.42,112.77 239.72,112.61 241.02,112.45 242.33,112.29 243.64,112.13 244.96,111.98 246.29,111.83 247.62,111.67 248.96,111.52 250.30,111.37 251.65,111.22 253.01,111.08 254.37,110.93 255.74,110.79 257.12,110.64 258.50,110.50 259.88,110.36 261.28,110.22 262.68,110.08 264.08,109.94 265.49,109.80 266.91,109.67 268.33,109.53 269.76,109.40 271.20,109.27 272.64,109.14 274.09,109.01 275.55,108.88 277.01,108.75 278.48,108.62 279.95,108.49 281.43,108.37 282.92,108.25 284.41,108.12 285.91,108.00 287.42,107.88 288.93,107.76 290.45,107.64 291.97,107.52 293.50,107.40 295.04,107.29 296.58,107.17 298.14,107.06 299.69,106.94 301.26,106.83 302.83,106.72 304.40,106.60 305.99,106.49 307.58,106.38 309.17,106.28 310.78,106.17 312.39,106.06 314.00,105.96 315.63,105.85 317.26,105.75 318.89,105.64 320.53,105.54 322.18,105.44 323.84,105.33 325.50,105.23 327.17,105.13 328.85,105.03 330.53,104.94 332.22,104.84 333.92,104.74 335.62,104.65 337.33,104.55 339.05,104.46 340.77,104.36 342.51,104.27 344.24,104.18 345.99,104.08 347.74,103.99 349.50,103.90 351.26,103.81 353.03,103.72 354.81,103.63 356.60,103.55 358.39,103.46 360.19,103.37 362.00,103.29 363.81,103.20 365.63,103.11 367.46,103.03 369.30,102.95 371.14,102.86 372.99,102.78 374.85,102.70 376.71,102.62 378.58,102.54 380.46,102.46 382.34,102.38 384.23,102.30 386.13,102.22 388.04,102.14 389.95,102.07 391.87,101.99 393.80,101.91 395.74,101.84 397.68,101.76 399.63,101.69 401.58,101.62 403.55,101.54 405.52,101.47 407.50,101.40 409.48,101.32 411.48,101.25 413.48,101.18 415.49,101.11 417.50,101.04 419.53,100.97 421.56,100.90 423.59,100.84 425.64,100.77 427.69,100.70 429.75,100.63 431.82,100.57 433.89,100.50 435.98,100.43 438.07,100.37 440.16,100.30 442.27,100.24 444.38,100.18 446.50,100.11 448.63,100.05 450.77,99.99 452.91,99.93 455.06,99.86 457.22,99.80 459.38,99.74 461.56,99.68 463.74,99.62 465.93,99.56 468.13,99.50 470.33,99.44 472.54,99.38 474.76,99.33 476.99,99.27 479.23,99.21 481.47,99.16 483.72,99.10 485.98,99.04 488.25,98.99 490.52,98.93 492.80,98.88 495.09,98.82 497.39,98.77 499.70,98.71 502.01,98.66 504.33,98.61 506.66,98.55 509.00,98.50 511.35,98.45 513.70,98.40 516.06,98.35 518.43,98.29 520.81,98.24 523.20,98.19 525.59,98.14 527.99,98.09 530.40,98.04 532.82,97.99 535.25,97.95 537.68,97.90" fill="none" stroke="#262626" stroke-width="1.30"/>
</g>
<text x="306.00" y="435.00" text-anchor="middle" class="l">Equilibrium As concentration(mg/L)</text>
<text transform="translate(13.10,196.90) rotate(-90)" text-anchor="middle" class="l">As adsorbed(mg/g)</text>
<circle cx="385" cy="246.4" r="4.40" fill="#0b8a0b"/>
<text x="400.3" y="249.8" class="g">cMNP</text>
<rect x="381.20" y="261.80" width="7.60" height="7.60" fill="#ff8000"/>
<text x="401.3" y="269.6" class="g">iMNP</text>
<line x1="371.4" y1="285.5" x2="395.2" y2="285.5" stroke="#ff2020" stroke-width="1.20" stroke-dasharray="2.3 1.9"/>
<text x="401.6" y="289.9" class="g">Freudlich model fit</text>
<line x1="372.8" y1="306.4" x2="397.2" y2="306.4" stroke="#262626" stroke-width="1.30"/>
<text x="401.6" y="309.9" class="g">Langmuir model fit</text>
</svg>
</body></html>
